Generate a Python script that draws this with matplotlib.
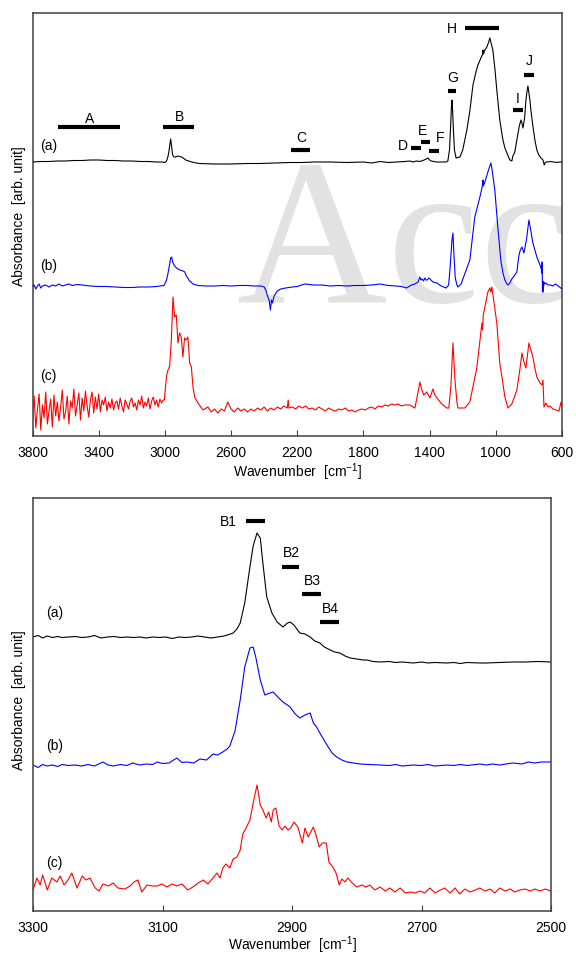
import matplotlib
matplotlib.use("Agg")
import matplotlib.pyplot as plt

plt.rcParams['font.family'] = ['Liberation Sans', 'DejaVu Sans']
plt.rcParams['mathtext.fontset'] = 'custom'
plt.rcParams['mathtext.rm'] = 'Liberation Sans'
plt.rcParams['mathtext.default'] = 'regular'

# ---------------- full-range spectra (3800-600 cm-1) ----------------
a_full_wn = [3800, 3750, 3700, 3650, 3600, 3550, 3500, 3450, 3400, 3350, 3300, 3250, 3200, 3150,
             3100, 3050, 3020, 3000, 2990, 2982, 2977, 2970, 2965, 2960, 2953, 2945, 2935, 2923,
             2910, 2899, 2885, 2874, 2855, 2838, 2810, 2790, 2700, 2608, 2500, 2427, 2330, 2245,
             2170, 2100, 2000, 1900, 1800, 1750, 1700, 1650, 1600, 1550, 1520, 1500, 1480, 1460,
             1440, 1420, 1410, 1400, 1390, 1360, 1330, 1300, 1290, 1280, 1273, 1268, 1265, 1261,
             1256, 1250, 1240, 1230, 1217, 1200, 1175, 1157, 1138, 1120, 1108, 1095, 1085, 1081,
             1078, 1075, 1066, 1054, 1045, 1036, 1030, 1018, 1006, 994, 976, 957, 945, 933, 915,
             903, 897, 885, 873, 858, 848, 842, 836, 826, 818, 812, 806, 800, 794, 788, 776, 764,
             752, 740, 727, 715, 707, 703, 697, 690, 670, 650, 630, 615, 600]
a_full_abs = [274, 274.5, 274.5, 275, 275, 275.5, 275.5, 276, 276, 275.5, 275.5, 275, 275, 274.5,
              274.5, 274, 274, 273.5, 275, 279, 283, 291, 297, 290, 281, 279, 279, 280,
              279.5, 279, 277.5, 276, 275, 274, 273, 272.5, 272, 272, 272.5, 272.5, 273, 273.5,
              273.5, 274, 274, 273.5, 274, 273, 274.5, 273.5, 274, 274.5, 275, 274, 275, 274.5,
              275.5, 277, 278, 276, 275, 274, 274, 274, 275, 286, 310, 330, 336, 325,
              305, 286, 278, 278.5, 279, 286, 306, 325, 351, 364, 371, 376, 380, 381,
              386, 382, 386, 389, 393, 398, 394, 386, 368, 346, 316, 296, 288, 283, 276,
              275, 280, 284, 296, 310, 316, 313, 308, 318, 336, 344, 350, 343, 336, 326, 310, 296,
              286, 281, 278, 276, 271, 273, 274, 274, 274.5, 274, 273.5, 274, 274]

b_full_wn = [3800, 3790, 3780, 3770, 3760, 3750, 3740, 3720, 3700, 3680, 3660, 3640, 3620, 3600,
             3580, 3560, 3530, 3500, 3450, 3400, 3350, 3300, 3250, 3200, 3150, 3100, 3050, 3030,
             3005, 2990, 2982, 2975, 2965, 2959, 2953, 2945, 2930, 2910, 2890, 2880, 2870, 2850,
             2830, 2800, 2750, 2700, 2650, 2600, 2550, 2500, 2460, 2420, 2400, 2390, 2380, 2370,
             2362, 2356, 2350, 2340, 2320, 2300, 2270, 2230, 2200, 2155, 2100, 2050, 2000, 1950,
             1900, 1850, 1800, 1750, 1700, 1650, 1600, 1570, 1540, 1510, 1490, 1470, 1459, 1452,
             1445, 1437, 1429, 1422, 1415, 1405, 1398, 1380, 1356, 1330, 1300, 1285, 1275, 1265,
             1259, 1253, 1245, 1235, 1229, 1210, 1190, 1157, 1127, 1096, 1084, 1080, 1078, 1075,
             1066, 1048, 1036, 1030, 1024, 1006, 988, 970, 957, 945, 933, 927, 915, 903, 885, 873,
             861, 852, 842, 836, 830, 815, 800, 788, 776, 764, 752, 740, 733, 725, 722, 720, 718,
             716, 714, 709, 703, 697, 685, 670, 655, 640, 630, 615, 600]
b_full_abs = [149, 151, 147, 150, 152, 148, 150, 151, 149, 151, 150, 152, 150, 151,
              152, 150.5, 151.5, 151, 150, 149.5, 149.5, 149, 148.5, 148.5, 149, 149, 149.5, 150,
              150.5, 156, 162, 168, 178, 179, 174, 171, 168, 166, 165, 164, 160, 155,
              152, 150.5, 150, 150, 150.5, 150, 150.5, 150.5, 150, 150, 149, 146, 140, 136,
              126, 136, 133, 140, 145, 147, 148, 149, 149.5, 152, 151, 151, 150, 150.5,
              150, 150.5, 150.5, 151, 152, 150.5, 150, 149.5, 148, 151, 152, 154, 159, 156,
              157, 155, 158, 156, 156, 158, 157, 154, 153, 150, 148, 151, 171, 196,
              203, 181, 158, 151, 149, 152, 161, 176, 219, 239, 248, 252, 256, 250,
              254, 264, 270, 273, 268, 246, 209, 176, 163, 156, 152, 151, 153, 157, 161, 164,
              180, 186, 189, 186, 183, 196, 216, 205, 193, 186, 179, 174, 171, 167, 163, 174, 144,
              155, 144, 154, 152, 153, 151, 151, 150, 152, 151, 149, 147]

c_full_wn_noise = [3800, 3790, 3780, 3770, 3760, 3750, 3740, 3730, 3720, 3710, 3700, 3690, 3680,
                   3670, 3660, 3650, 3640, 3630, 3620, 3610, 3600, 3590, 3580, 3570, 3560, 3550,
                   3540, 3530, 3520, 3510, 3500, 3490, 3480, 3470, 3460, 3450, 3440, 3430, 3420,
                   3410, 3400, 3390, 3380, 3370, 3360, 3350, 3340, 3330, 3320, 3310, 3300, 3290,
                   3280, 3270, 3260, 3250, 3240, 3230, 3220, 3210, 3200, 3190, 3180, 3170, 3160,
                   3150, 3140, 3130, 3120, 3110, 3100, 3090, 3080, 3070, 3060, 3050, 3040, 3030,
                   3020, 3010]
c_full_abs_noise = [16, 40, 8, 27, 42, 6, 31, 18, 44, 12, 25, 37, 9, 41, 20, 34, 15,
                    29, 46, 17, 24, 40, 12, 35, 28, 47, 20, 31, 43, 16, 38, 25, 45, 30, 19, 36,
                    44, 23, 39, 27, 42,
                    24, 36, 31, 39, 25, 34, 28, 37, 26, 33, 35, 27, 38, 30, 24, 36, 32, 27, 35,
                    38, 29, 33, 26, 36, 31, 40, 28, 34, 30, 38, 27, 35, 39, 31, 36, 29, 37, 33, 36]
c_full_wn_ch = [3003, 2996, 2988, 2981, 2971, 2961, 2951, 2941, 2931, 2921, 2911, 2901, 2891,
                2881, 2870, 2861, 2850, 2840, 2830, 2820, 2800]
c_full_abs_ch = [36, 50, 62, 66, 70, 96, 139, 119, 121, 93, 103, 99, 79, 98, 96, 99, 73, 69, 49,
                 39, 33]
c_full_wn_mid = [2770, 2740, 2720, 2700, 2680, 2660, 2640, 2620, 2600, 2580, 2560, 2540, 2520,
                 2500, 2480, 2460, 2440, 2420, 2400, 2380, 2360, 2340, 2320, 2300, 2280, 2260,
                 2255, 2250, 2230, 2210, 2190, 2170, 2150, 2130, 2110, 2090, 2070, 2050, 2030,
                 2010, 1990, 1970, 1950, 1930, 1910, 1890, 1870, 1850, 1830, 1810, 1790, 1770,
                 1750, 1730, 1710, 1690, 1670, 1650, 1630, 1610, 1590, 1570]
c_full_abs_mid = [26, 29, 24, 27, 23, 27, 25, 34, 27, 24, 28, 25, 27, 24, 27, 25, 28, 26, 29, 25,
                  28, 26, 29, 27, 30, 28, 36, 28, 29, 27, 30, 28, 30, 27, 28, 26, 29, 27, 25, 28,
                  26, 25, 27, 26, 28, 25, 26, 24, 26, 27, 26, 28, 29, 27, 30, 29, 31, 30, 32, 31,
                  32, 30]
c_full_wn_fp = [1550, 1520, 1489, 1471, 1459, 1447, 1435, 1417, 1398, 1380, 1368, 1356, 1326,
                1296, 1284, 1271, 1259, 1247, 1235, 1229, 1187, 1157, 1114, 1096, 1084, 1080,
                1076, 1066, 1048, 1036, 1030, 1024, 1018, 994, 976, 945, 927, 903, 873, 855, 842,
                830, 818, 800, 788, 776, 764, 752, 733, 721, 715, 709, 697, 685, 673, 655, 636,
                618, 606, 600]
c_full_abs_fp = [31, 31, 28, 43, 54, 46, 41, 44, 38, 47, 41, 38, 32, 28, 28, 51, 93, 56, 34, 28,
                 28, 34, 69, 96, 113, 106, 121, 129, 144, 148, 144, 149, 142, 113, 73, 39, 28, 32,
                 46, 66, 83, 74, 68, 93, 86, 79, 68, 59, 53, 51, 56, 29, 33, 29, 30, 27, 26, 25,
                 34, 28]

# band markers of the full-range panel
band_names = ['A', 'B', 'C', 'D', 'E', 'F', 'G', 'H', 'I', 'J']
band_lo = [3644, 3009, 2236, 1510, 1450, 1404, 1291, 1188, 898, 831]
band_hi = [3271, 2821, 2121, 1452, 1396, 1345, 1238, 978, 837, 771]
band_bar_y = [309, 309, 286, 288, 294, 285, 345, 408, 326, 361]
band_text_x = [3456, 2914, 2176, 1561, 1446, 1335, 1261, 1264, 867, 801]
band_text_y = [313, 315, 294, 286, 301, 294, 354, 403, 333, 371]

# ---------------- C-H stretching region (3300-2500 cm-1) ----------------
a_ch_wn = [3300, 3292, 3285, 3278, 3270, 3262, 3255, 3245, 3235, 3225, 3215, 3205, 3195, 3185,
           3175, 3165, 3155, 3145, 3135, 3125, 3115, 3105, 3095, 3085, 3075, 3065, 3055, 3045,
           3035, 3025, 3015, 3005, 2995, 2991, 2985, 2980, 2973, 2965, 2960, 2954, 2949, 2945,
           2939, 2931, 2923, 2914, 2907, 2903, 2897, 2888, 2880, 2872, 2865, 2857, 2850, 2841,
           2834, 2826, 2818, 2810, 2800, 2790, 2784, 2775, 2764, 2750, 2740, 2730, 2713, 2700,
           2690, 2680, 2661, 2650, 2640, 2630, 2610, 2600, 2580, 2559, 2540, 2520, 2500]
a_ch_abs = [274, 275.5, 273, 275, 273.5, 274.5, 273.5, 274, 274.5, 273.5, 274, 275.5, 273, 274,
            274.5, 273.5, 274, 273.5, 274, 273, 274, 273.5, 274, 272.5, 274, 273.5, 274, 275,
            274, 273, 274, 275, 277, 278, 282, 288, 308, 344, 365, 378, 373, 348,
            314, 298, 289, 284, 288, 289, 286, 278, 277, 274, 270, 268, 264, 261,
            259, 258, 255, 253, 252, 251, 251, 249.5, 249, 249.5, 248.5, 249, 248, 249,
            248, 248.5, 248, 248.5, 247.5, 248.5, 248, 248, 248.5, 249, 249, 249.5, 249]

b_ch_wn = [3300, 3292, 3285, 3278, 3270, 3262, 3255, 3245, 3235, 3225, 3215, 3205, 3192, 3184,
           3176, 3165, 3155, 3146, 3135, 3125, 3115, 3108, 3100, 3090, 3078, 3070, 3062, 3052,
           3042, 3032, 3022, 3015, 3007, 3000, 2996, 2988, 2980, 2973, 2965, 2960, 2956, 2949,
           2942, 2934, 2929, 2922, 2914, 2907, 2903, 2895, 2888, 2880, 2872, 2867, 2862, 2857,
           2846, 2838, 2831, 2823, 2815, 2805, 2795, 2780, 2764, 2750, 2740, 2730, 2713, 2700,
           2690, 2680, 2661, 2650, 2640, 2630, 2610, 2600, 2590, 2580, 2559, 2545, 2535, 2525,
           2515, 2500]
b_ch_abs = [146, 143.5, 146.5, 145, 146, 144.5, 146.5, 145.5, 146, 145, 146.5, 145, 149, 146,
            145, 146.5, 145.5, 148, 146, 147, 146.5, 149, 147.5, 148, 153, 148.5, 149, 148,
            152, 151, 157, 156, 159, 162, 165, 180, 211, 244, 263, 264, 254, 231,
            216, 218, 219, 214, 209, 206, 204, 197, 193, 196, 198, 188, 184, 178,
            166, 158, 154, 151, 149, 148, 147, 146.5, 146, 145.5, 146.5, 145, 146, 145.5,
            146.5, 145, 146, 145.5, 146.5, 145.5, 147, 146, 147, 146, 148, 147, 149, 148,
            149, 149]

c_ch_wn = [3300, 3294, 3289, 3285, 3278, 3271, 3263, 3258, 3252, 3246, 3240, 3232, 3224, 3218,
           3212, 3204, 3198, 3192, 3184, 3176, 3169, 3158, 3150, 3144, 3138, 3132, 3124, 3116,
           3108, 3101, 3093, 3085, 3078, 3070, 3061, 3053, 3045, 3037, 3030, 3022, 3016, 3011,
           3007, 3002, 2996, 2991, 2985, 2980, 2976, 2971, 2965, 2959, 2954, 2949, 2945, 2940,
           2936, 2932, 2929, 2925, 2920, 2915, 2911, 2906, 2902, 2897, 2891, 2884, 2880, 2875,
           2867, 2863, 2858, 2853, 2847, 2843, 2837, 2832, 2827, 2823, 2818, 2814, 2807, 2800,
           2792, 2786, 2780, 2772, 2764, 2756, 2749, 2741, 2733, 2725, 2718, 2710, 2702, 2695,
           2687, 2679, 2671, 2664, 2656, 2648, 2641, 2633, 2625, 2617, 2610, 2602, 2594, 2587,
           2579, 2571, 2563, 2556, 2548, 2540, 2532, 2525, 2517, 2509, 2500]
c_ch_abs = [21, 33, 26, 36, 21, 33, 29, 35, 26, 31, 38, 23, 35, 31,
            33, 23, 20, 27, 25, 28, 23, 22, 25, 29, 31, 19, 26, 25,
            25, 27, 24, 27, 25, 27, 21, 24, 28, 31, 27, 33, 38, 33,
            43, 47, 43, 52, 54, 61, 77, 83, 91, 111, 126, 106, 101, 93,
            99, 89, 101, 103, 85, 81, 85, 81, 83, 89, 84, 68, 83, 74,
            84, 76, 64, 68, 68, 49, 44, 38, 26, 32, 29, 33, 28, 24,
            26, 24, 26, 21, 24, 20, 23, 19, 23, 18, 19, 18, 20, 18,
            23, 18, 21, 23, 18, 23, 17, 22, 19, 21, 23, 20, 22, 18,
            23, 20, 22, 19, 21, 22, 20, 22, 20, 22, 20]

sub_names = ['B1', 'B2', 'B3', 'B4']
sub_lo = [2971, 2916, 2884, 2856]
sub_hi = [2942, 2889, 2855, 2827]
sub_bar_y = [390, 344, 317, 289]
sub_text_x = [2998, 2901, 2868, 2841]
sub_text_y = [385, 354, 326, 298]

full_ticks = [3800, 3400, 3000, 2600, 2200, 1800, 1400, 1000, 600]
ch_ticks = [3300, 3100, 2900, 2700, 2500]

# ---------------- figure ----------------
W, H = 576, 955
fig = plt.figure(figsize=(W / 100, H / 100), dpi=100)
ax1 = fig.add_axes([32.5 / W, 1 - 436 / H, 529.5 / W, 423 / H])
ax2 = fig.add_axes([33 / W, 1 - 911 / H, 518 / W, 413 / H])

FS = 10
spine_col = '#404040'
lw_trace = 0.8


def style(ax, ticks, xlim, ylim):
    ax.set_xlim(*xlim)
    ax.set_ylim(*ylim)
    ax.set_xticks(ticks)
    ax.set_xticklabels([str(t) for t in ticks])
    ax.set_yticks([])
    ax.tick_params(axis='x', direction='in', length=4, width=0.8, pad=7,
                   labelsize=FS, colors=spine_col, labelcolor='black')
    for s in ax.spines.values():
        s.set_color(spine_col)
        s.set_linewidth(1.1)


style(ax1, full_ticks, (3800, 600), (0, 423))
style(ax2, ch_ticks, (3300, 2500), (0, 413))

# watermark behind the spectra, clipped to the plotting area
wm = ax1.text(2562, 134, 'Acc', family=['Liberation Serif', 'DejaVu Serif'], fontsize=150,
              color='#e2e2e2', ha='left', va='baseline', zorder=0)
wm.set_clip_on(True)
wm.set_clip_box(ax1.bbox)

ax1.plot(a_full_wn, a_full_abs, color='black', lw=lw_trace, zorder=3)
ax1.plot(b_full_wn, b_full_abs, color='#0000ff', lw=lw_trace, zorder=3)
c_full_wn = c_full_wn_noise + c_full_wn_ch + c_full_wn_mid + c_full_wn_fp
c_full_abs = c_full_abs_noise + c_full_abs_ch + c_full_abs_mid + c_full_abs_fp
ax1.plot(c_full_wn, c_full_abs, color='#ff0000', lw=lw_trace, zorder=3)

for name, lo, hi, yb, tx, ty in zip(band_names, band_lo, band_hi, band_bar_y,
                                    band_text_x, band_text_y):
    ax1.plot([lo, hi], [yb, yb], color='black', lw=3, solid_capstyle='butt', zorder=4)
    ax1.text(tx, ty, name, fontsize=FS, ha='center', va='baseline', zorder=4)

for lab, yv in zip(['(a)', '(b)', '(c)'], [290, 170, 60]):
    ax1.text(3752, yv, lab, fontsize=FS, ha='left', va='center')

ax2.plot(a_ch_wn, a_ch_abs, color='black', lw=lw_trace)
ax2.plot(b_ch_wn, b_ch_abs, color='#0000ff', lw=lw_trace)
ax2.plot(c_ch_wn, c_ch_abs, color='#ff0000', lw=lw_trace)

for name, lo, hi, yb, tx, ty in zip(sub_names, sub_lo, sub_hi, sub_bar_y,
                                    sub_text_x, sub_text_y):
    ax2.plot([lo, hi], [yb, yb], color='black', lw=3, solid_capstyle='butt')
    ax2.text(tx, ty, name, fontsize=FS, ha='center', va='baseline')

for lab, yv in zip(['(a)', '(b)', '(c)'], [298, 165, 48.5]):
    ax2.text(3280, yv, lab, fontsize=FS, ha='left', va='center')

for ax, yfrac in [(ax1, -0.06), (ax2, -0.057)]:
    ax.set_xlabel('Wavenumber  [cm$^{-1}$]', fontsize=FS)
    ax.xaxis.set_label_coords(0.5, yfrac)

fig.text(19 / W, 1 - 216 / H, 'Absorbance  [arb. unit]', rotation=90, fontsize=FS,
         ha='center', va='center')
fig.text(19 / W, 1 - 700 / H, 'Absorbance  [arb. unit]', rotation=90, fontsize=FS,
         ha='center', va='center')

fig.savefig('out.png', dpi=100)
